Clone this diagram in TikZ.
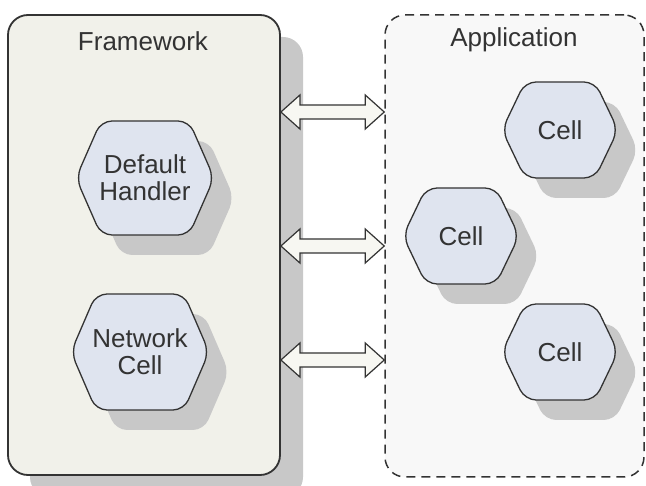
\documentclass[tikz,border=0pt]{standalone}
\usepackage{fontspec}
\setmainfont{Liberation Sans}
\usetikzlibrary{calc}
\definecolor{fwfill}{HTML}{F1F1EA}
\definecolor{appfill}{HTML}{F8F8F8}
\definecolor{hexfill}{HTML}{DFE4EF}
\definecolor{shadowgray}{HTML}{C8C8C8}
\definecolor{ink}{HTML}{333333}
\definecolor{arrfill}{HTML}{F7F7F2}
\tikzset{
  container/.style={rounded corners=20pt, line width=1.8pt, draw=ink, inner sep=0pt},
  title/.style={font=\fontsize{26}{27}\selectfont, text=ink},
  hexbox/.style={rounded corners=11pt, draw=ink, line width=1.3pt, fill=hexfill},
  hexshadow/.style={rounded corners=11pt, fill=shadowgray},
  hexlabel/.style={font=\fontsize{26}{27}\selectfont, text=ink, align=center},
  arrowshape/.style={draw=ink, line width=1.2pt, fill=arrfill, line join=miter},
}
\newcommand\hexcell[7]{% #1 name, #2 cx, #3 cy, #4 hw, #5 hh, #6 hf, #7 text
  \path[hexshadow, shift={(#2+20,#3+20)}] (-#4,0) -- (-#6,-#5) -- (#6,-#5) -- (#4,0) -- (#6,#5) -- (-#6,#5) -- cycle;
  \draw[hexbox, shift={(#2,#3)}] (-#4,0) -- (-#6,-#5) -- (#6,-#5) -- (#4,0) -- (#6,#5) -- (-#6,#5) -- cycle;
  \node[hexlabel] (#1) at (#2,#3) {#7};
}
\newcommand\dblarrow[2]{%
  \draw[arrowshape] (#1) -- ++(19,-17) -- ++(0,10) -- ($(#2)+(-19,-7)$) -- ++(0,-10) -- (#2) -- ++(-19,17) -- ++(0,-10) -- ($(#1)+(19,7)$) -- ++(0,10) -- cycle;
}
\begin{document}
\begin{tikzpicture}[x=1pt,y=-1pt]
\useasboundingbox (0,0) rectangle (646,486);
\clip (0,0) rectangle (646,486);
\fill[white] (0,0) rectangle (646,486);
% framework shadow
\path[fill=shadowgray, rounded corners=20pt] (30,37) rectangle (303,497);
\node[container, fill=fwfill, minimum width=272pt, minimum height=460pt] (fw) at (144,245) {};
\node[container, dashed, dash pattern=on 9pt off 6pt, line width=1.5pt, fill=appfill, minimum width=259pt, minimum height=462pt] (app) at (514.5,246) {};
\node[title] (fwt) at (143,41) {Framework};
\node[title] (appt) at (514,40) {Application};
\hexcell{dh}{145}{178}{69}{57}{44}{Default\\Handler}
\hexcell{nc}{140}{352}{69}{58}{44}{Network\\Cell}
\hexcell{c1}{560}{130}{58}{48}{35}{Cell}
\hexcell{c2}{461}{236}{58}{48}{35}{Cell}
\hexcell{c3}{560}{352}{58}{48}{35}{Cell}
\coordinate (l1) at (fw.east |- 0,112);
\coordinate (r1) at (app.west |- 0,112);
\coordinate (l2) at (fw.east |- 0,246);
\coordinate (r2) at (app.west |- 0,246);
\coordinate (l3) at (fw.east |- 0,360);
\coordinate (r3) at (app.west |- 0,360);
\dblarrow{l1}{r1}
\dblarrow{l2}{r2}
\dblarrow{l3}{r3}
\end{tikzpicture}
\end{document}
